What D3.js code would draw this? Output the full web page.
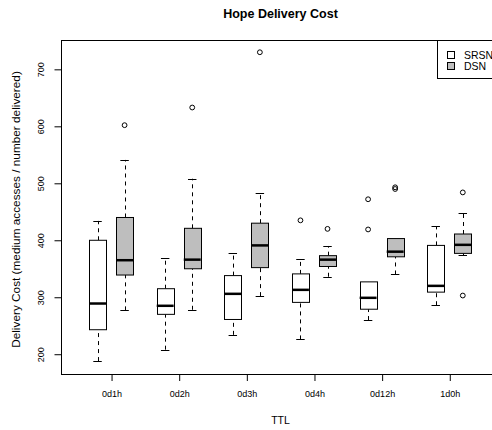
<!DOCTYPE html>
<html>
<head>
<meta charset="utf-8">
<script src="https://cdn.jsdelivr.net/npm/d3@7"></script>
<style>
  body { margin: 0; background: #fff; }
  svg { font-family: "Liberation Sans", Arial, sans-serif; }
</style>
</head>
<body>
<div id="chart"></div>
<script>
// TTL groups, two series each
var ttls = ['0d1h', '0d2h', '0d3h', '0d4h', '0d12h', '1d0h'];
var series = ['SRSN', 'DSN'];
var seriesFill = ['#ffffff', '#bebebe'];
var yTicks = [200, 300, 400, 500, 600, 700];

// [lower whisker, Q1, median, Q3, upper whisker]
var srsnStats = [
    [188, 243, 289, 400, 434],
    [208, 270, 285, 315, 369],
    [234, 261, 306, 338, 377],
    [226, 291, 313, 341, 368],
    [260, 279, 299, 327, 327],
    [286, 309, 320, 391, 425]
];
var dsnStats = [
    [277, 339, 365, 440, 541],
    [278, 350, 366, 421, 508],
    [302, 352, 391, 430, 483],
    [336, 354, 366, 373, 390],
    [340, 371, 380, 403, 403],
    [374, 377, 392, 411, 447]
];
var srsnOutliers = [[], [], [], [435], [472, 419], []];
var dsnOutliers = [[602], [633], [730], [420], [493, 490], [484, 303]];

var margin = { top: 40, left: 61 };
var plotW = 500 - 61, plotH = 374 - 40;

var svg = d3.select('#chart').append('svg')
    .attr('width', 492).attr('height', 430);

var g = svg.append('g')
    .attr('transform', 'translate(' + margin.left + ',' + margin.top + ')');

var xScale = d3.scaleLinear().domain([0.26, 6.75]).range([0, plotW]);
var yScale = d3.scaleLinear().domain([165.3, 751.5]).range([plotH, 0]);

var offset = 0.2, boxHalf = 0.125, capHalf = 0.0625;

var boxes = [];
ttls.forEach(function(t, i) {
    boxes.push({ pos: i + 1 - offset, s: srsnStats[i], out: srsnOutliers[i], fill: seriesFill[0] });
    boxes.push({ pos: i + 1 + offset, s: dsnStats[i], out: dsnOutliers[i], fill: seriesFill[1] });
});

function px(v) { return Math.round(v) + 0.5; }

var bx = g.selectAll('.box').data(boxes).enter().append('g').attr('class', 'box');

// whiskers
bx.append('line')
    .attr('x1', function(d) { return px(xScale(d.pos)); })
    .attr('x2', function(d) { return px(xScale(d.pos)); })
    .attr('y1', function(d) { return yScale(d.s[0]); })
    .attr('y2', function(d) { return yScale(d.s[1]); })
    .attr('stroke', '#000').attr('stroke-dasharray', '4,4');
bx.append('line')
    .attr('x1', function(d) { return px(xScale(d.pos)); })
    .attr('x2', function(d) { return px(xScale(d.pos)); })
    .attr('y1', function(d) { return yScale(d.s[3]); })
    .attr('y2', function(d) { return yScale(d.s[4]); })
    .attr('stroke', '#000').attr('stroke-dasharray', '4,4');

// staples
[0, 4].forEach(function(k) {
    bx.append('line')
        .attr('x1', function(d) { return xScale(d.pos - capHalf); })
        .attr('x2', function(d) { return xScale(d.pos + capHalf); })
        .attr('y1', function(d) { return px(yScale(d.s[k])); })
        .attr('y2', function(d) { return px(yScale(d.s[k])); })
        .attr('stroke', '#000');
});

// boxes
bx.append('rect')
    .attr('x', function(d) { return px(xScale(d.pos - boxHalf)); })
    .attr('width', function(d) { return Math.round(xScale(d.pos + boxHalf) - xScale(d.pos - boxHalf)); })
    .attr('y', function(d) { return yScale(d.s[3]); })
    .attr('height', function(d) { return yScale(d.s[1]) - yScale(d.s[3]); })
    .attr('fill', function(d) { return d.fill; })
    .attr('stroke', '#000');

// medians
bx.append('line')
    .attr('x1', function(d) { return xScale(d.pos - boxHalf); })
    .attr('x2', function(d) { return xScale(d.pos + boxHalf); })
    .attr('y1', function(d) { return yScale(d.s[2]); })
    .attr('y2', function(d) { return yScale(d.s[2]); })
    .attr('stroke', '#000').attr('stroke-width', 2.5);

// outliers
bx.selectAll('circle').data(function(d) {
        return d.out.map(function(v) { return { pos: d.pos, v: v }; });
    })
    .enter().append('circle')
    .attr('cx', function(d) { return xScale(d.pos); })
    .attr('cy', function(d) { return yScale(d.v); })
    .attr('r', 2.4)
    .attr('fill', 'none').attr('stroke', '#000');

// frame
g.append('rect')
    .attr('x', 0.5).attr('y', 0.5)
    .attr('width', plotW).attr('height', plotH)
    .attr('fill', 'none').attr('stroke', '#000');

// x axis
var xAxis = d3.axisBottom(xScale)
    .tickValues(d3.range(1, ttls.length + 1))
    .tickFormat(function(d) { return ttls[d - 1]; })
    .tickSize(7).tickPadding(10);
var xg = g.append('g').attr('transform', 'translate(0.5,' + plotH + ')').call(xAxis);
xg.select('.domain').remove();
xg.selectAll('text').attr('font-size', 9).attr('font-family', null).attr('fill', '#000');
xg.selectAll('line').attr('stroke', '#000');

// y axis
var yAxis = d3.axisLeft(yScale).tickValues(yTicks).tickSize(7).tickPadding(0);
var yg = g.append('g').attr('transform', 'translate(0.5,0)').call(yAxis);
yg.select('.domain').remove();
yg.selectAll('line').attr('stroke', '#000');
yg.selectAll('text')
    .attr('font-size', 9).attr('font-family', null).attr('fill', '#000')
    .attr('x', 0).attr('dy', null)
    .attr('text-anchor', 'middle')
    .attr('transform', 'translate(-18,0) rotate(-90)');

// titles
svg.append('text')
    .attr('x', 280.5).attr('y', 18)
    .attr('text-anchor', 'middle')
    .attr('font-size', 12.5).attr('font-weight', 'bold')
    .text('Hope Delivery Cost');

svg.append('text')
    .attr('x', 280.5).attr('y', 424)
    .attr('text-anchor', 'middle')
    .attr('font-size', 10.5)
    .text('TTL');

svg.append('text')
    .attr('transform', 'translate(20,209.5) rotate(-90)')
    .attr('text-anchor', 'middle')
    .attr('font-size', 11.8)
    .text('Delivery Cost (medium accesses / number delivered)');

// legend
var lg = svg.append('g').attr('transform', 'translate(437,40)');
lg.append('rect')
    .attr('x', 0.5).attr('y', 0.5).attr('width', 80).attr('height', 38)
    .attr('fill', '#fff').attr('stroke', '#000');
var items = lg.selectAll('.item').data(series).enter().append('g')
    .attr('transform', function(d, i) { return 'translate(0,' + (i * 11) + ')'; });
items.append('rect')
    .attr('x', 10.5).attr('y', 11.5).attr('width', 7).attr('height', 7)
    .attr('fill', function(d, i) { return seriesFill[i]; })
    .attr('stroke', '#000');
items.append('text')
    .attr('x', 27).attr('y', 19)
    .attr('font-size', 10.5)
    .text(function(d) { return d; });
</script>
</body>
</html>
